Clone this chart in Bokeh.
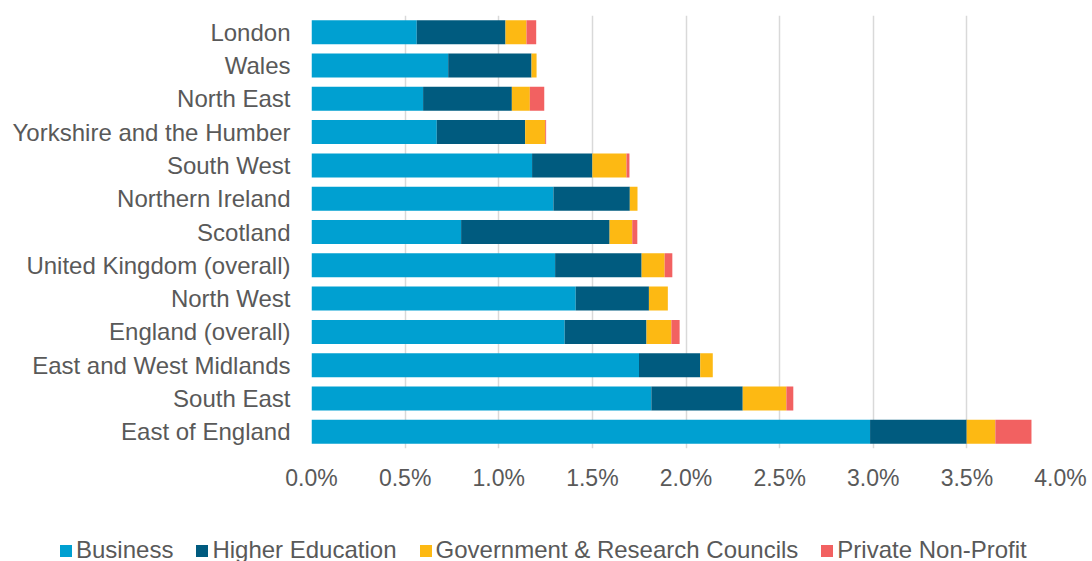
from bokeh.plotting import figure
from bokeh.models import (ColumnDataSource, FactorRange, Range1d, Legend, LegendItem,
                          PrintfTickFormatter, FixedTicker)
from bokeh.embed import file_html
from bokeh.resources import INLINE

regions = ["London", "Wales", "North East", "Yorkshire and the Humber", "South West",
           "Northern Ireland", "Scotland", "United Kingdom (overall)", "North West",
           "England (overall)", "East and West Midlands", "South East", "East of England"]
business = [0.562, 0.730, 0.596, 0.669, 1.178, 1.292, 0.799, 1.301, 1.411, 1.352, 1.749, 1.815, 2.983]
higher_education = [0.474, 0.445, 0.474, 0.472, 0.322, 0.408, 0.793, 0.462, 0.391, 0.437, 0.327, 0.488, 0.516]
government = [0.112, 0.027, 0.096, 0.107, 0.182, 0.041, 0.121, 0.123, 0.101, 0.133, 0.067, 0.233, 0.153]
private_non_profit = [0.052, 0.0, 0.077, 0.005, 0.016, 0.0, 0.027, 0.041, 0.0, 0.044, 0.0, 0.037, 0.193]

series_keys = ["business", "higher_education", "government", "private_non_profit"]
series_labels = ["Business", "Higher Education", "Government & Research Councils", "Private Non-Profit"]
colors = ["#00A0D1", "#005B7F", "#FDB913", "#F26161"]
x_ticks = [0.0, 0.5, 1.0, 1.5, 2.0, 2.5, 3.0, 3.5, 4.0]

source = ColumnDataSource(dict(region=regions, business=business,
                               higher_education=higher_education,
                               government=government,
                               private_non_profit=private_non_profit))

FONT = "Liberation Sans"
TXT = "#595959"

p = figure(width=1092, height=520, output_backend="svg", toolbar_location=None,
           y_range=FactorRange(factors=list(reversed(regions)), range_padding=0),
           x_range=Range1d(0, 4.0),
           min_border_left=311, min_border_right=32, min_border_top=15, min_border_bottom=72)
p.outline_line_color = None
p.background_fill_color = "white"

renderers = p.hbar_stack(series_keys, y="region", height=0.72, color=colors,
                         line_color=None, source=source)

# axes
p.xaxis.ticker = FixedTicker(ticks=x_ticks)
p.xaxis.formatter = PrintfTickFormatter(format="%.1f%%")
for ax in (p.xaxis, p.yaxis):
    ax.axis_line_color = None
    ax.major_tick_line_color = None
    ax.minor_tick_line_color = None
    ax.major_tick_out = 0
    ax.major_tick_in = 0
    ax.major_label_text_font = FONT
    ax.major_label_text_color = TXT
p.xaxis.major_label_text_font_size = "23px"
p.yaxis.major_label_text_font_size = "24px"
p.xaxis.major_label_standoff = 16
p.yaxis.major_label_standoff = 21

p.ygrid.grid_line_color = None
p.xgrid.grid_line_color = "#D9D9D9"
p.xgrid.grid_line_width = 1.5

# legend strip: a separate full-width figure so the legend can start at the far left
lg = figure(width=1092, height=41, output_backend="svg", toolbar_location=None,
            x_range=Range1d(0, 1), y_range=FactorRange(factors=list(reversed(regions))),
            x_axis_type=None, y_axis_type=None,
            min_border_left=0, min_border_right=0, min_border_top=0, min_border_bottom=0)
lg.outline_line_color = None
lg.xgrid.visible = False
lg.ygrid.visible = False
key_renderers = lg.hbar_stack(series_keys, y="region", height=0.72, color=colors,
                              line_color=None, source=source, visible=False)

legend = Legend(items=[LegendItem(label=lab, renderers=[r]) for lab, r in zip(series_labels, key_renderers)],
                orientation="horizontal", location=(58, -3), click_policy="none",
                label_text_font=FONT, label_text_font_size="24px", label_text_color=TXT,
                glyph_width=15, glyph_height=15, label_standoff=3, spacing=21,
                padding=0, margin=0, border_line_color=None, background_fill_alpha=0)
lg.add_layout(legend, "center")

open("out.html", "w").write(file_html([p, lg], INLINE))
